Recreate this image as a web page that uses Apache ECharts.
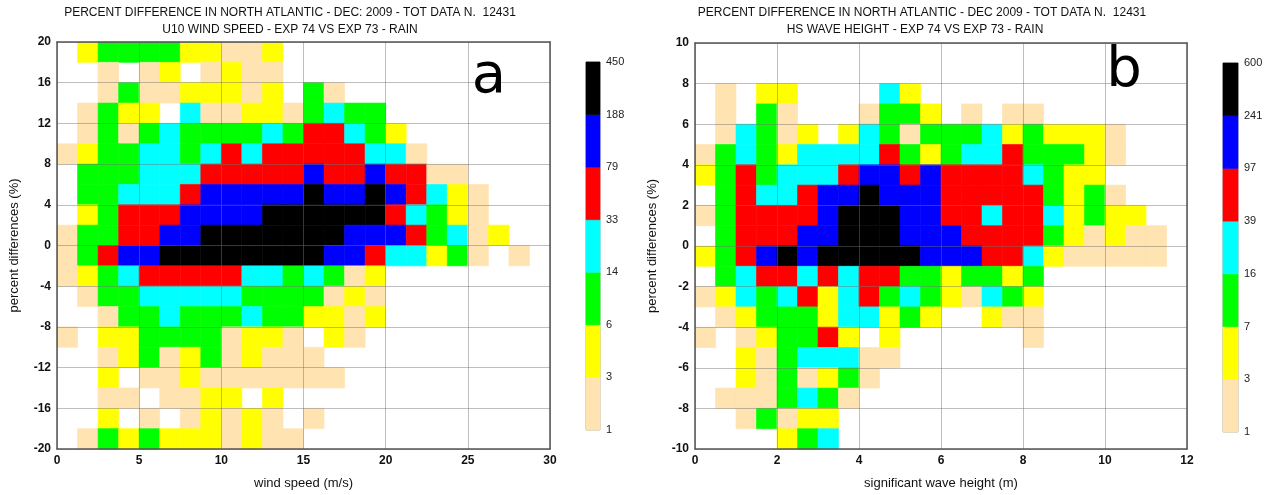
<!DOCTYPE html>
<html>
<head>
<meta charset="utf-8">
<script src="https://cdn.jsdelivr.net/npm/echarts@6/dist/echarts.min.js"></script>
<style>
  html, body { margin: 0; background: #fff; }
  #chart { width: 1274px; height: 495px; }
</style>
</head>
<body>
<div id="chart"></div>
<script>
// colour classes: 0 = empty, 1 = tan ... 7 = black
var classColors = ['#ffffff', '#ffe3b0', '#ffff00', '#00ff00', '#00ffff', '#ff0000', '#0000ff', '#000000'];

// --- panel a : U10 wind speed, bins 1.25 m/s x 2 %, rows from +20 down to -20
var windBinX = 1.25, windBinY = 2, windTop = 20;
var windRows = [
  '023333221120000000000000',
  '001012012110000000000000',
  '001311222120310000000000',
  '013220411221343300000000',
  '013134333343554320000000',
  '123344345455555441000000',
  '033344455555655655110000',
  '033444566666766765421000',
  '023555666677777754321000',
  '133556677777776665341200',
  '135667777777766544231010',
  '123455555443431200000000',
  '013344444333312100000000',
  '001334333433221200000000',
  '102233331221021000000000',
  '001231231211100000000000',
  '002011211111110000000000',
  '001101122020000000000000',
  '002010121210100000000000',
  '013232221211000000000000'
];
var windLevels = ['1', '3', '6', '14', '33', '79', '188', '450'];

// --- panel b : Hs wave height, bins 0.5 m x 1 %, rows from +10 down to -10
var waveBinX = 0.5, waveBinY = 1, waveTop = 10;
var waveRows = [
  '000000000000000000000000',
  '000000000000000000000000',
  '010220000420000000000000',
  '010310001332010110000000',
  '014312024313334232221000',
  '134324444532344533321000',
  '235344456656555543220000',
  '035445667666555553231000',
  '135555677766554554232200',
  '035556677766655553212110',
  '235676777776665542111110',
  '034554545533233230000000',
  '124345245343214320000000',
  '012333244232002110000000',
  '101233520200000010000000',
  '002134441100000000000000',
  '002131231000000000000000',
  '011134310000000000000000',
  '001312200000000000000000',
  '000023400000000000000000'
];
var waveLevels = ['1', '3', '7', '16', '39', '97', '241', '600'];

function toCells(rows, bx, by, top) {
  var out = [];
  rows.forEach(function (row, r) {
    for (var c = 0; c < row.length; c++) {
      var lvl = +row[c];
      if (lvl) out.push([c * bx, (c + 1) * bx, top - (r + 1) * by, top - r * by, lvl]);
    }
  });
  return out;
}

function barCells(levels) {
  var out = [];
  for (var i = 0; i < levels.length - 1; i++) out.push([0, 1, i, i + 1, i + 1]);
  return out;
}

function renderCell(params, api) {
  var p0 = api.coord([api.value(0), api.value(3)]);
  var p1 = api.coord([api.value(1), api.value(2)]);
  var col = classColors[api.value(4)];
  return {
    type: 'rect',
    shape: { x: p0[0], y: p0[1], width: p1[0] - p0[0], height: p1[1] - p0[1] },
    style: { fill: col, stroke: col, lineWidth: 0.6 }
  };
}

var font = 'Liberation Sans, Arial, sans-serif';
var gridLine = { show: true, lineStyle: { color: 'rgba(110,110,110,0.45)', width: 1 } };
var frame = { show: true, onZero: false, lineStyle: { color: '#555', width: 1.5 } };

function mainX(grid, max, step, name) {
  return {
    type: 'value', gridIndex: grid, min: 0, max: max, interval: step, z: 5,
    name: name, nameLocation: 'middle', nameGap: 28,
    nameTextStyle: { fontFamily: font, fontSize: 13, color: '#111' },
    axisLine: frame, axisTick: { show: false }, splitLine: gridLine,
    axisLabel: { fontFamily: font, fontSize: 12, fontWeight: 'bold', color: '#111', margin: 6 }
  };
}
function mainY(grid, lim, step) {
  return {
    type: 'value', gridIndex: grid, min: -lim, max: lim, interval: step, z: 5,
    name: 'percent differences (%)', nameLocation: 'middle', nameGap: 36,
    nameTextStyle: { fontFamily: font, fontSize: 13, color: '#111' },
    axisLine: frame, axisTick: { show: false }, splitLine: gridLine,
    axisLabel: { fontFamily: font, fontSize: 12, fontWeight: 'bold', color: '#111', margin: 6 }
  };
}
function edge(grid, min, max, pos) {
  return {
    type: 'value', gridIndex: grid, min: min, max: max, position: pos, z: 5,
    axisLine: frame, axisTick: { show: false }, axisLabel: { show: false }, splitLine: { show: false }
  };
}
function barY(grid, levels) {
  return {
    type: 'value', gridIndex: grid, min: 0, max: levels.length - 1, interval: 1, position: 'right',
    axisLine: { show: false }, axisTick: { show: false }, splitLine: { show: false },
    axisLabel: {
      fontFamily: font, fontSize: 11, color: '#222', margin: 6,
      formatter: function (v) { return levels[v]; }
    }
  };
}
function barX(grid) {
  return { type: 'value', gridIndex: grid, min: 0, max: 1, show: false };
}

function caption(x, y, text) {
  return { type: 'text', x: x, y: y, style: { text: text, font: '12px ' + font, fill: '#111', textAlign: 'center', textVerticalAlign: 'middle' } };
}
function panelLetter(x, y, text) {
  return { type: 'text', x: x, y: y, z: 10, style: { text: text, font: '56px DejaVu Sans, sans-serif', fill: '#000', textAlign: 'center', textVerticalAlign: 'middle' } };
}

var chart = echarts.init(document.getElementById('chart'));
chart.setOption({
  animation: false,
  backgroundColor: '#fff',
  grid: [
    { left: 57, top: 42, width: 493, height: 410 },
    { left: 695, top: 43, width: 492, height: 409 },
    { left: 586, top: 62, width: 14, height: 368, show: true, borderColor: '#aaa', borderWidth: 1 },
    { left: 1223, top: 63, width: 15, height: 369, show: true, borderColor: '#aaa', borderWidth: 1 }
  ],
  xAxis: [
    mainX(0, 30, 5, 'wind speed (m/s)'),
    edge(0, 0, 30, 'top'),
    mainX(1, 12, 2, 'significant wave height (m)'),
    edge(1, 0, 12, 'top'),
    barX(2),
    barX(3)
  ],
  yAxis: [
    mainY(0, 20, 4),
    edge(0, -20, 20, 'right'),
    mainY(1, 10, 2),
    edge(1, -10, 10, 'right'),
    barY(2, windLevels),
    barY(3, waveLevels)
  ],
  graphic: [
    caption(290, 13, 'PERCENT DIFFERENCE IN NORTH ATLANTIC - DEC: 2009 - TOT DATA N.  12431'),
    caption(290, 30, 'U10 WIND SPEED - EXP 74 VS EXP 73 - RAIN'),
    caption(922, 13, 'PERCENT DIFFERENCE IN NORTH ATLANTIC - DEC 2009 - TOT DATA N.  12431'),
    caption(915, 30, 'HS WAVE HEIGHT - EXP 74 VS EXP 73 - RAIN'),
    panelLetter(489, 77, 'a'),
    panelLetter(1124, 71, 'b')
  ],
  series: [
    { type: 'custom', xAxisIndex: 0, yAxisIndex: 0, renderItem: renderCell, encode: { x: [0, 1], y: [2, 3] }, data: toCells(windRows, windBinX, windBinY, windTop) },
    { type: 'custom', xAxisIndex: 2, yAxisIndex: 2, renderItem: renderCell, encode: { x: [0, 1], y: [2, 3] }, data: toCells(waveRows, waveBinX, waveBinY, waveTop) },
    { type: 'custom', xAxisIndex: 4, yAxisIndex: 4, renderItem: renderCell, encode: { x: [0, 1], y: [2, 3] }, data: barCells(windLevels) },
    { type: 'custom', xAxisIndex: 5, yAxisIndex: 5, renderItem: renderCell, encode: { x: [0, 1], y: [2, 3] }, data: barCells(waveLevels) }
  ]
});
</script>
</body>
</html>
